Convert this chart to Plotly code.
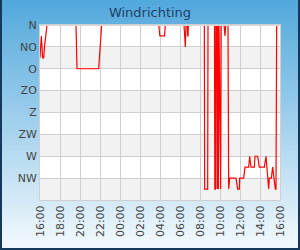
import plotly.graph_objects as go

# ---------------- data ----------------
start_date = "2024-05-14"
next_date = "2024-05-15"

times = [
    "16:00", "16:08", "16:16", "16:22", "16:27", "16:42",
    "19:36", "19:42", "21:52", "22:01", "22:10",
    "03:53", "03:59", "04:27", "04:32",
    "06:24", "06:32", "06:36", "06:44", "06:46", "06:48", "06:50",
    "08:26", "08:28", "08:46", "08:48",
    "09:27", "09:29", "09:33", "09:35", "09:41", "09:43", "09:47", "09:50", "09:54", "10:04", "10:07",
    "10:24", "10:30", "10:34", "10:48",
    "10:52", "10:58", "11:36", "11:46", "11:56", "11:58", "12:22", "12:30",
    "12:52", "12:58", "13:06", "13:26", "13:30", "13:46", "13:56", "14:26",
    "14:36", "14:48", "14:52", "14:56", "15:08", "15:16", "15:22", "15:26",
    "15:32", "15:36", "15:40", "15:59",
]
directions = [
    67.5, 22.5, 67.5, 67.5, 45, 0,
    0, 90, 90, 45, 0,
    0, 22.5, 22.5, 0,
    0, 45, 0, 0, 22.5, 22.5, 0,
    0, 337.5, 337.5, 0,
    0, 337.5, 337.5, 0, 0, 337.5, 0, 337.5, 0, 337.5, 0,
    0, 22.5, 0, 0,
    337.5, 315, 315, 337.5, 337.5, 315, 315, 292.5,
    292.5, 270, 292.5, 292.5, 270, 270, 292.5, 292.5,
    270, 315, 337.5, 315, 315, 292.5, 315, 315,
    337.5, 337.5, 0, 0,
]

dir_labels = ["N", "NO", "O", "ZO", "Z", "ZW", "W", "NW"]
dir_degrees = [0, 45, 90, 135, 180, 225, 270, 315]
full_circle = 360

x_start = f"{start_date} 16:00"
x_end = f"{next_date} 16:00"

# convert clock times to timestamps (roll over at midnight)
stamps = []
day = start_date
prev = None
for t in times:
    if prev is not None and t < prev:
        day = next_date
    stamps.append(f"{day} {t}")
    prev = t

# ---------------- figure ----------------
W, H = 300, 250
ml, mr, mt, mb = 40, 20, 25, 50
pw, ph = W - ml - mr, H - mt - mb


def pxx(X):
    return (X - ml) / pw


def pyy(Y):
    return (H - mb - Y) / ph


shapes = []
# vertical gradient background
top_rgb = (0x52, 0xa8, 0xdc)
bot_rgb = (0xf4, 0xfa, 0xfe)
n = 50
for i in range(n):
    f = (i + 0.5) / n
    c = tuple(int(round(a + (b - a) * f)) for a, b in zip(top_rgb, bot_rgb))
    y0 = i * H / n
    y1 = (i + 1) * H / n + 0.8
    shapes.append(dict(type="rect", xref="paper", yref="paper",
                       x0=pxx(-1), x1=pxx(W + 1), y0=pyy(y1), y1=pyy(y0),
                       fillcolor="rgb(%d,%d,%d)" % c, line_width=0, layer="below"))

# plot area background + alternating bands
shapes.append(dict(type="rect", xref="x", yref="y", x0=x_start, x1=x_end,
                   y0=0, y1=full_circle, fillcolor="white", line_width=0, layer="below"))
bounds = dir_degrees + [full_circle]
for i in range(1, len(dir_degrees), 2):
    shapes.append(dict(type="rect", xref="x", yref="y", x0=x_start, x1=x_end,
                       y0=bounds[i], y1=bounds[i + 1], fillcolor="#f2f2f2",
                       line_width=0, layer="below"))

# hide line lying on the very top edge
shapes.append(dict(type="rect", xref="paper", yref="paper", x0=0, x1=1,
                   y0=1 - 1.0 / ph, y1=1, fillcolor="#d6d6d6", line_width=0, layer="above"))

# outer border (left, right, bottom)
border = "#16385c"
shapes.append(dict(type="line", xref="paper", yref="paper", x0=pxx(1), x1=pxx(1),
                   y0=pyy(0), y1=pyy(H), line=dict(color=border, width=2), layer="above"))
shapes.append(dict(type="line", xref="paper", yref="paper", x0=pxx(W - 1), x1=pxx(W - 1),
                   y0=pyy(0), y1=pyy(H), line=dict(color=border, width=2), layer="above"))
shapes.append(dict(type="line", xref="paper", yref="paper", x0=pxx(0), x1=pxx(W),
                   y0=pyy(H - 1), y1=pyy(H - 1), line=dict(color=border, width=2), layer="above"))

fig = go.Figure()
fig.add_trace(go.Scatter(x=stamps, y=directions, mode="lines",
                         line=dict(color="#ff0000", width=1.2),
                         hoverinfo="skip", showlegend=False))

font_family = "DejaVu Sans"
fig.update_layout(
    width=W, height=H,
    margin=dict(l=ml, r=mr, t=mt, b=mb, pad=0),
    paper_bgcolor="#7fc0e8",
    plot_bgcolor="white",
    shapes=shapes,
    title=dict(text="Windrichting", x=0.5, xref="container", xanchor="center",
               y=1 - 12.5 / H, yref="container", yanchor="middle",
               font=dict(family=font_family, size=13, color="#1d3f66")),
    xaxis=dict(type="date", range=[x_start, x_end], tick0=x_start, dtick=2 * 3600 * 1000,
               tickformat="%H:%M", tickangle=-90, showgrid=True, gridcolor="#cfcfcf",
               gridwidth=1, showline=True, linecolor="#cfcfcf", linewidth=1, mirror=True,
               ticks="", tickfont=dict(family=font_family, size=11, color="#444444"),
               fixedrange=True),
    yaxis=dict(range=[full_circle, 0], tickmode="array", tickvals=dir_degrees,
               ticktext=dir_labels, showgrid=True, gridcolor="#cfcfcf", gridwidth=1,
               showline=True, linecolor="#cfcfcf", linewidth=1, mirror=True, zeroline=False,
               ticks="", tickfont=dict(family=font_family, size=11, color="#444444"),
               fixedrange=True),
)

fig.write_html("out.html", config={"displayModeBar": False})
